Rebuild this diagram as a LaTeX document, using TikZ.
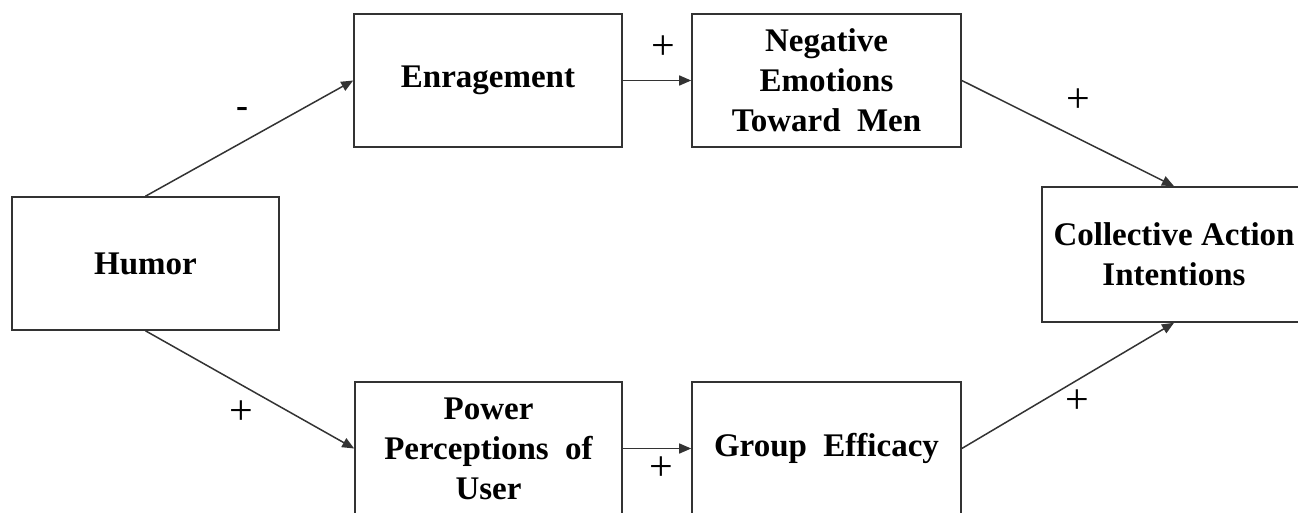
\documentclass[tikz,border=0pt]{standalone}
\usepackage{fontspec}
\setmainfont{Liberation Serif}
\usetikzlibrary{arrows.meta}
\definecolor{ln}{HTML}{333333}
\begin{document}
\begin{tikzpicture}[x=1pt,y=-1pt,
  box/.style={draw=ln,line width=1.6pt,fill=white,minimum width=268pt,minimum height=133pt,
    inner sep=0pt,align=center,font=\fontsize{33}{40}\selectfont\bfseries},
  conn/.style={draw=ln,line width=1.5pt,-{Triangle[length=12pt,width=10pt]}},
  sign/.style={inner sep=0pt,font=\fontsize{42}{44}\selectfont}]
\useasboundingbox (0,0) rectangle (1298,512);
\begin{scope}
\clip (0,0) rectangle (1298,512);
\node[box,minimum width=267pt] (h) at (145.5,263.5) {Humor};
\node[box] (e) at (488,80.5) {Enragement};
\node[box,minimum width=269pt] (n) at (826.5,80.5) {Negative\\Emotions\\Toward~ Men};
\node[box,minimum width=267pt] (p) at (488.5,448.5) {Power\\Perceptions~ of\\User};
\node[box,minimum width=269pt] (g) at (826.5,448.5) {Group~ Efficacy};
\node[box,minimum width=264pt,minimum height=135pt] (c) at (1174,254.5) {Collective Action\\Intentions};
\draw[conn] (h.north) -- (e.west);
\draw[conn] (h.south) -- (p.west);
\draw[conn] (e.east) -- (n.west);
\draw[conn] (p.east) -- (g.west);
\draw[conn] (n.east) -- (c.north);
\draw[conn] (g.east) -- (c.south);
\node[sign,font=\fontsize{36}{40}\selectfont\bfseries] (s1) at (242,112) {-};
\node[sign] (s2) at (663,48) {+};
\node[sign] (s3) at (1078,101) {+};
\node[sign] (s4) at (241,413) {+};
\node[sign] (s5) at (661,469) {+};
\node[sign] (s6) at (1077,402) {+};
\end{scope}
\end{tikzpicture}
\end{document}
